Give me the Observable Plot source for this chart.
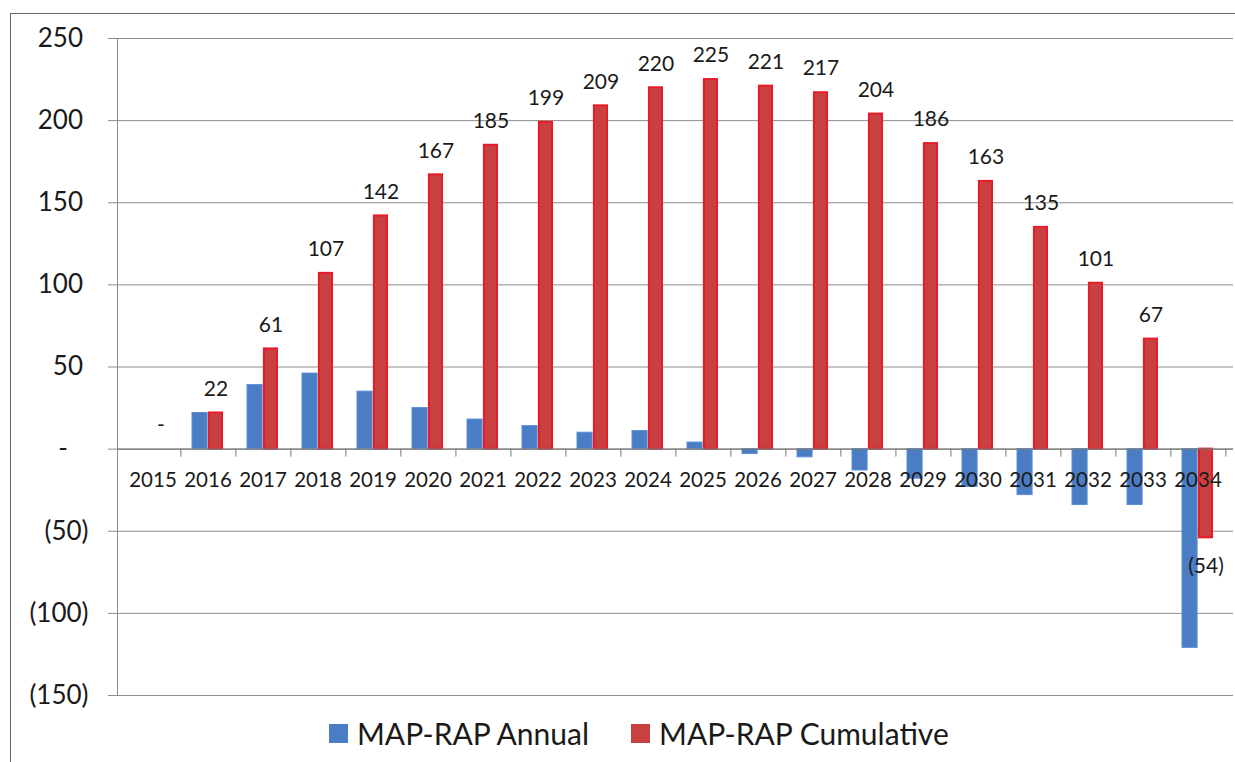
<!DOCTYPE html>
<html>
<head>
<meta charset="utf-8">
<script src="https://cdn.jsdelivr.net/npm/d3@7"></script>
<script src="https://cdn.jsdelivr.net/npm/@observablehq/plot@0.6"></script>
<style>
  html, body { margin: 0; padding: 0; background: #fff; overflow: hidden; }
  #page { position: relative; width: 1235px; height: 762px; font-family: Lato, "Open Sans", sans-serif; color: #1a1a1a; }
  #frame { position: absolute; left: 10px; top: 13px; width: 1400px; height: 900px;
           border-left: 1.5px solid #6a6a6a; border-top: 1.5px solid #6a6a6a; }
  #chart { position: absolute; left: 0; top: 0; }
  #legend { position: absolute; left: 329px; top: 715px; height: 36px; display: flex; align-items: center;
            font-size: 30px; line-height: 36px; white-space: nowrap; }
  .sw { display: inline-block; width: 19px; height: 19px; margin-right: 9px; }
  .item { display: flex; align-items: center; }
</style>
</head>
<body>
<div id="page">
  <div id="frame"></div>
  <div id="chart"></div>
  <div id="legend"></div>
</div>
<script>
// Fiscal years on the category axis
const years = [2015, 2016, 2017, 2018, 2019, 2020, 2021, 2022, 2023, 2024,
               2025, 2026, 2027, 2028, 2029, 2030, 2031, 2032, 2033, 2034];
// MAP-RAP annual difference
const annual = [0, 22, 39, 46, 35, 25, 18, 14, 10, 11,
                4, -3, -5, -13, -18, -23, -28, -34, -34, -121];
// MAP-RAP cumulative difference
const cumulative = [0, 22, 61, 107, 142, 167, 185, 199, 209, 220,
                    225, 221, 217, 204, 186, 163, 135, 101, 67, -54];
// Value-axis ticks
const yTicks = [-150, -100, -50, 0, 50, 100, 150, 200, 250];
// Series names and colours
const seriesNames = ["MAP-RAP Annual", "MAP-RAP Cumulative"];
const seriesColors = ["#4a7dc4", "#c8403f"];

const rows = years.map((year, i) => ({year, annual: annual[i], cumulative: cumulative[i]}));

// Accounting-style number format: zero as a dash, negatives in parentheses
const acct = v => v === 0 ? "-" : v < 0 ? `(${-v})` : `${v}`;
const axisFmt = v => v === 0 ? "-\u2007\u2008" : v < 0 ? `(${-v})` : `${v}\u2008`;

const W = 1235, H = 710, mL = 117, mR = 2, mT = 38, mB = 15;
const padInner = 0.43;
const step = (W - mL - mR) / years.length;      // paddingOuter = paddingInner / 2
const bandW = step * (1 - padInner);
const half = bandW / 2;

const font = "Lato, 'Open Sans', sans-serif";
const gridColor = "#8c8c8c";

const chart = Plot.plot({
  width: W, height: H,
  marginLeft: mL, marginRight: mR, marginTop: mT, marginBottom: mB,
  style: {fontFamily: font, color: "#1a1a1a", background: "transparent", overflow: "visible"},
  x: {type: "band", domain: years, paddingInner: padInner, paddingOuter: padInner / 2, axis: null},
  y: {domain: [-150, 250], axis: null},
  marks: [
    Plot.gridY(yTicks, {stroke: gridColor, strokeOpacity: 1, strokeWidth: 1}),
    Plot.axisY(yTicks, {tickSize: 9, tickPadding: 20, tickFormat: axisFmt, fontSize: 26,
                        stroke: gridColor, fill: "#1a1a1a"}),
    Plot.frame({anchor: "left", stroke: gridColor}),
    Plot.barY(rows, {x: "year", y: "annual", fill: seriesColors[0], stroke: "#5a8fd6",
                     strokeWidth: 1, insetRight: half}),
    Plot.barY(rows, {x: "year", y: "cumulative", fill: seriesColors[1], stroke: "#e81b2b",
                     strokeWidth: 2, insetLeft: half + 1, insetRight: 1}),
    Plot.ruleY([0], {stroke: "#7a7a7a", strokeWidth: 1.2}),
    Plot.ruleX(years, {x: d => d, y1: 0, y2: 0, insetBottom: -8, dx: step / 2, stroke: "#7a7a7a"}),
    Plot.text(years, {x: d => d, y: 0, text: d => String(d), dy: 31, fontSize: 20.5, fill: "#1a1a1a"}),
    Plot.text(rows.filter(d => d.cumulative >= 0),
              {x: "year", y: "cumulative", text: d => acct(d.cumulative), dx: half / 2, dy: -24,
               fontSize: 21, fill: "#1a1a1a"}),
    Plot.text(rows.filter(d => d.cumulative < 0),
              {x: "year", y: "cumulative", text: d => acct(d.cumulative), dx: half / 2, dy: 28,
               fontSize: 21, fill: "#1a1a1a"})
  ]
});
document.getElementById("chart").appendChild(chart);

// Legend below the chart
const legend = document.getElementById("legend");
seriesNames.forEach((name, i) => {
  const item = document.createElement("span");
  item.className = "item";
  if (i > 0) item.style.marginLeft = "42px";
  const sw = document.createElement("span");
  sw.className = "sw";
  sw.style.background = seriesColors[i];
  item.appendChild(sw);
  item.appendChild(document.createTextNode(name));
  legend.appendChild(item);
});
</script>
</body>
</html>
